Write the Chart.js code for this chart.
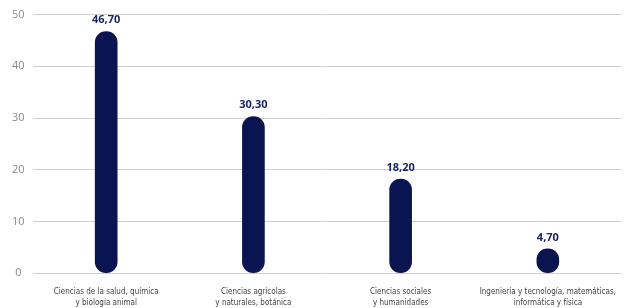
<!DOCTYPE html>
<html><head><meta charset="utf-8">
<script src="https://cdn.jsdelivr.net/npm/chart.js@4"></script>
<style>html,body{margin:0;padding:0;background:#fff}#w{width:630px;height:308px}</style>
</head><body><div id="w"><canvas id="c"></canvas></div>
<script>
const categories = [
  ["Ciencias de la salud, química", "y biología animal"],
  ["Ciencias agrícolas", "y naturales, botánica"],
  ["Ciencias sociales", "y humanidades"],
  ["Ingeniería y tecnología, matemáticas,", "informática y física"]
];
const values = [46.70, 30.30, 18.20, 4.70];
const valueLabels = ["46,70", "30,30", "18,20", "4,70"];
const yTicks = [0, 10, 20, 30, 40, 50];

const valueLabelPlugin = {
  id: 'valueLabels',
  afterDatasetsDraw(chart) {
    const ctx = chart.ctx;
    const meta = chart.getDatasetMeta(0);
    ctx.save();
    ctx.font = 'bold 11px "Open Sans"';
    ctx.fillStyle = '#1b2566';
    ctx.textAlign = 'center';
    ctx.textBaseline = 'bottom';
    meta.data.forEach((bar, i) => {
      ctx.fillText(valueLabels[i], bar.x, bar.y - 6);
    });
    ctx.restore();
  }
};

new Chart(document.getElementById('c'), {
  type: 'bar',
  data: {
    labels: categories,
    datasets: [{
      data: values,
      backgroundColor: '#0a1450',
      barThickness: 22,
      borderRadius: 11,
      borderSkipped: false
    }]
  },
  options: {
    responsive: true,
    maintainAspectRatio: false,
    animation: false,
    layout: { padding: { top: 5, right: 0, left: 4, bottom: -14 } },
    plugins: { legend: { display: false }, tooltip: { enabled: false } },
    scales: {
      x: {
        grid: { display: false, drawTicks: false },
        border: { display: false },
        ticks: {
          font: { family: '"DejaVu Sans Condensed", "Liberation Sans Narrow", "Open Sans"', size: 8, lineHeight: 1.3 },
          color: '#444',
          maxRotation: 0,
          autoSkip: false,
          padding: 14
        }
      },
      y: {
        min: 0, max: 50,
        afterBuildTicks(axis) { axis.ticks = yTicks.map(v => ({ value: v })); },
        grid: { color: '#cfcfcf', lineWidth: 1, drawTicks: false },
        border: { display: false },
        ticks: {
          font: { family: '"Open Sans"', size: 11 },
          color: '#8a8a8a',
          padding: 8,
          crossAlign: 'center'
        }
      }
    }
  },
  plugins: [valueLabelPlugin]
});
</script></body></html>
